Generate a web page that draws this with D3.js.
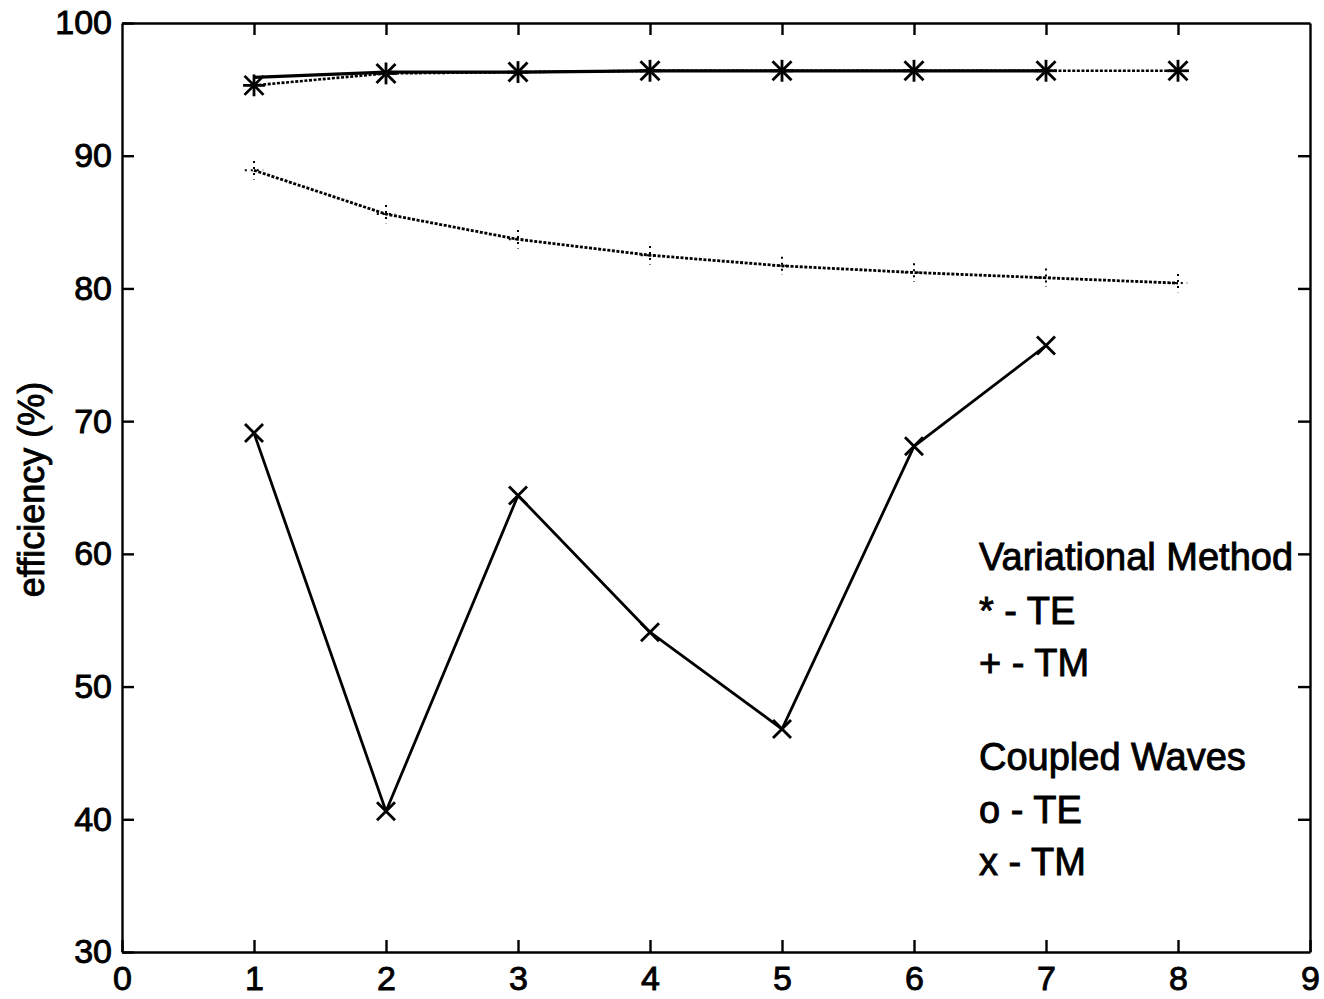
<!DOCTYPE html>
<html>
<head>
<meta charset="utf-8">
<script src="https://cdn.jsdelivr.net/npm/d3@7"></script>
<style>
  html, body { margin: 0; padding: 0; background: #fff; }
  svg { display: block; font-family: "Liberation Sans", Arial, Helvetica, sans-serif; }
  text { stroke: #000; stroke-width: 0.9px; paint-order: stroke; }
</style>
</head>
<body>
<svg id="chart" width="1324" height="999"></svg>
<script>
// Grating order index on the x axis
const xTicks = [0, 1, 2, 3, 4, 5, 6, 7, 8, 9];
const yTicks = [30, 40, 50, 60, 70, 80, 90, 100];

// Variational method (8 orders)
const variationalOrders = [1, 2, 3, 4, 5, 6, 7, 8];
const variationalTE = [95.3, 96.2, 96.3, 96.4, 96.4, 96.4, 96.4, 96.4];
const variationalTM = [88.9, 85.6, 83.7, 82.5, 81.7, 81.2, 80.8, 80.4];

// Coupled waves (7 orders)
const coupledOrders = [1, 2, 3, 4, 5, 6, 7];
const coupledTE = [95.9, 96.3, 96.3, 96.4, 96.4, 96.4, 96.4];
const coupledTM = [69.1, 40.6, 64.4, 54.1, 46.8, 68.1, 75.7];

const legendLines = [
  "Variational Method", "* - TE", "+ - TM", "",
  "Coupled Waves", "o - TE", "x - TM"
];

const margin = { left: 122, right: 14, top: 23, bottom: 47 };
const W = 1324, H = 999;
const svg = d3.select("#chart");

const x = d3.scaleLinear().domain([0, 9]).range([margin.left, W - margin.right]);
const y = d3.scaleLinear().domain([30, 100]).range([H - margin.bottom, margin.top]);

const tickLen = 12;
const tickFont = 34;

// Axes box with inward ticks on all four sides
const axisStyle = g => {
  g.select(".domain").attr("stroke", "#000").attr("stroke-width", 2.4);
  g.selectAll(".tick line").attr("stroke", "#000").attr("stroke-width", 2.4);
  g.selectAll(".tick text").attr("fill", "#000").attr("font-size", tickFont);
};

svg.append("g")
  .attr("transform", `translate(0,${y(30)})`)
  .call(d3.axisBottom(x).tickValues(xTicks).tickSizeInner(-tickLen).tickSizeOuter(0).tickPadding(14).tickFormat(d3.format("d")))
  .call(axisStyle);

svg.append("g")
  .attr("transform", `translate(0,${y(100)})`)
  .call(d3.axisTop(x).tickValues(xTicks.slice(1, -1)).tickSizeInner(-tickLen).tickSizeOuter(0).tickFormat(""))
  .call(axisStyle);

svg.append("g")
  .attr("transform", `translate(${x(0)},0)`)
  .call(d3.axisLeft(y).tickValues(yTicks).tickSizeInner(-tickLen).tickSizeOuter(0).tickPadding(10).tickFormat(d3.format("d")))
  .call(axisStyle);

svg.append("g")
  .attr("transform", `translate(${x(9)},0)`)
  .call(d3.axisRight(y).tickValues(yTicks.slice(1, -1)).tickSizeInner(-tickLen).tickSizeOuter(0).tickFormat(""))
  .call(axisStyle);

// Y axis title
svg.append("text")
  .attr("transform", `translate(44,${(y(30) + y(100)) / 2 + 2}) rotate(-90)`)
  .attr("text-anchor", "middle")
  .attr("font-size", 36)
  .attr("fill", "#000")
  .text("efficiency (%)");

const line = d3.line().x(d => x(d[0])).y(d => y(d[1]));
const pairs = (xs, ys) => xs.map((v, i) => [v, ys[i]]);

const plot = svg.append("g");

function drawSeries(xs, ys, dashed, width) {
  plot.append("path")
    .datum(pairs(xs, ys))
    .attr("d", line)
    .attr("fill", "none")
    .attr("stroke", "#000")
    .attr("stroke-width", width)
    .attr("stroke-linejoin", "round")
    .attr("stroke-dasharray", dashed ? "3,1.6" : null);
}

drawSeries(variationalOrders, variationalTM, true, 2.8);
drawSeries(variationalOrders, variationalTE, true, 2.6);
drawSeries(coupledOrders, coupledTE, false, 3.2);
drawSeries(coupledOrders, coupledTM, false, 2.8);

// Markers
function marker(xs, ys, kind, r, dashed) {
  const g = plot.append("g");
  pairs(xs, ys).forEach(([a, b]) => {
    const cx = x(a), cy = y(b);
    let segs = [];
    if (kind === "x" || kind === "*") {
      segs.push([-r, -r, r, r], [-r, r, r, -r]);
    }
    if (kind === "+" || kind === "*") {
      segs.push([0, -r * 1.15, 0, r * 1.15], [-r * 1.15, 0, r * 1.15, 0]);
    }
    segs.forEach(s => {
      g.append("line")
        .attr("x1", cx + s[0]).attr("y1", cy + s[1])
        .attr("x2", cx + s[2]).attr("y2", cy + s[3])
        .attr("stroke", "#000")
        .attr("stroke-width", dashed ? 2 : 2.8)
        .attr("stroke-dasharray", dashed ? "2,4" : null);
    });
  });
}

marker(variationalOrders, variationalTM, "+", 8, true);
marker(variationalOrders, variationalTE, "*", 9.5, false);
marker(coupledOrders, coupledTM, "x", 9, false);

// Legend text
const legend = svg.append("g").attr("font-size", 38).attr("fill", "#000");
const legendY = [570, 624, 676, 0, 770, 823, 875];
legendLines.forEach((t, i) => {
  if (!t) return;
  legend.append("text")
    .attr("x", 979)
    .attr("y", legendY[i])
    .text(t);
});
</script>
</body>
</html>
